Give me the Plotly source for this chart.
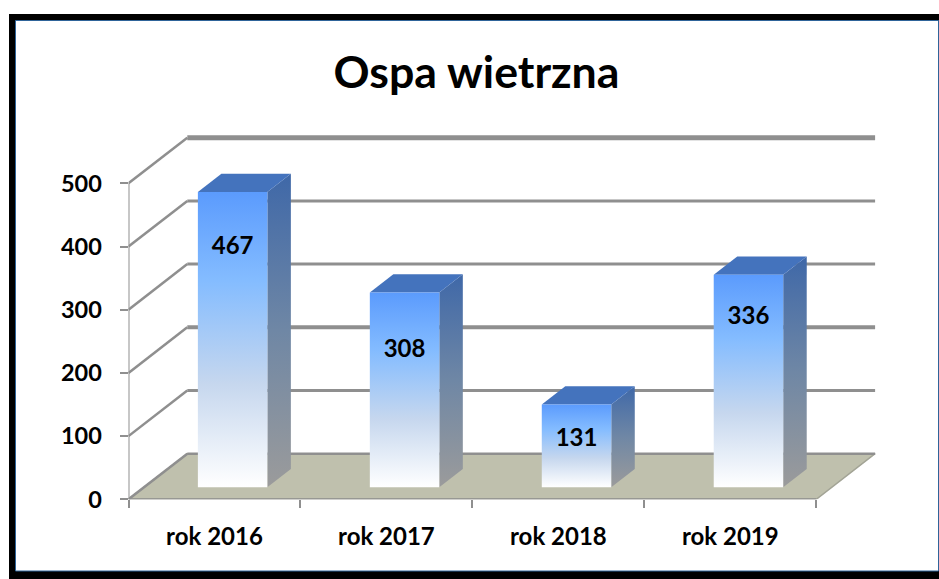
import plotly.graph_objects as go

W, H = 939, 579
title = "Ospa wietrzna"
categories = ["rok 2016", "rok 2017", "rok 2018", "rok 2019"]
values = [467, 308, 131, 336]
y_ticks = [0, 100, 200, 300, 400, 500]
label_frac = [0.810, 0.700, 0.57, 0.795]
grid_width = {100: 3, 200: 4, 300: 3, 400: 3, 500: 5}

FONT = "Lato"
GRAY = "#8f8f8f"
# plot area, in pixels of the picture (with a little room around the box)
PX_L, PX_R, PX_T, PX_B = 128.5, 890, 125, 499.3
PX_CAT = (816.3 - 128.5) / 4
PX_VAL = (499.3 - 183.3) / 500
# depth of the 3D box, in data units
DX = 58.8 / PX_CAT
DY = 45.6 / PX_VAL
# bar geometry, as a fraction of a category and of the depth
BAR_Z0, BAR_DEPTH = 0.265, 0.40
BAR_LEFT, BAR_W = 0.4035 - BAR_Z0 * DX, 0.404


def proj(x, v, z):
    return x + z * DX, v + z * DY


fig = go.Figure()


def poly(points, **kw):
    xs = [p[0] for p in points] + [points[0][0]]
    ys = [p[1] for p in points] + [points[0][1]]
    fig.add_trace(go.Scatter(x=xs, y=ys, mode="lines", fill="toself", hoverinfo="skip",
                             showlegend=False, cliponaxis=False, **kw))


def line(xs, ys, width):
    fig.add_trace(go.Scatter(x=xs, y=ys, mode="lines", hoverinfo="skip", showlegend=False,
                             cliponaxis=False, line=dict(color=GRAY, width=width)))


n = len(categories)
# floor
poly([proj(0, 0, 0), proj(n, 0, 0), proj(n, 0, 1), proj(0, 0, 1)],
     fillcolor="#bfc0ad", line=dict(color="#a3a496", width=1.5))

# gridlines on the side wall and the back wall
for v in y_ticks:
    x0, y0 = proj(0, v, 1)
    x1, y1 = proj(n, v, 1)
    line([0, x0], [v, y0], 2.5)
    line([x0, x1], [y0, y1], grid_width.get(v, 2.5))

# the axis lines
line([0, 0], [0, max(y_ticks)], 2)
line([0, n], [0, 0], 2)

# bars
front_scale = [[0, "#ffffff"], [0.35, "#c6d7ee"], [0.7, "#84bcff"], [1, "#5b9bfd"]]
side_scale = [[0, "#9b9b9b"], [0.5, "#6f87a5"], [1, "#3f68a8"]]
for i, v in enumerate(values):
    xl = i + BAR_LEFT
    xr = xl + BAR_W
    z0, z1 = BAR_Z0, BAR_Z0 + BAR_DEPTH
    # side face
    poly([proj(xr, 0, z0), proj(xr, v, z0), proj(xr, v, z1), proj(xr, 0, z1)],
         line=dict(width=0), fillgradient=dict(type="vertical", colorscale=side_scale))
    # top face
    poly([proj(xl, v, z0), proj(xr, v, z0), proj(xr, v, z1), proj(xl, v, z1)],
         fillcolor="#4473bd", line=dict(width=0))
    # front face
    poly([proj(xl, 0, z0), proj(xr, 0, z0), proj(xr, v, z0), proj(xl, v, z0)],
         line=dict(width=0), fillgradient=dict(type="vertical", colorscale=front_scale))

# value labels
lx, ly = [], []
for i, v in enumerate(values):
    x, y = proj(i + BAR_LEFT + BAR_W / 2, v * label_frac[i], BAR_Z0)
    lx.append(x)
    ly.append(y)
fig.add_trace(go.Scatter(x=lx, y=ly, mode="text", text=[str(v) for v in values], textposition="middle center",
                         textfont=dict(family=FONT, size=24, color="#000000", weight="bold"),
                         hoverinfo="skip", showlegend=False, cliponaxis=False))


def px(x):
    return x / W


def py(y):
    return 1 - y / H


frame = [
    dict(type="rect", xref="paper", yref="paper", x0=px(9), x1=px(939), y0=py(579), y1=py(14),
         fillcolor="#000000", line=dict(width=0), layer="below"),
    dict(type="rect", xref="paper", yref="paper", x0=px(15.5), x1=px(938.5), y0=py(571), y1=py(20.5),
         fillcolor="#ffffff", line=dict(color="#2f6499", width=1), layer="below"),
]

fig.update_layout(
    width=W, height=H, autosize=False,
    margin=dict(l=0, r=0, t=0, b=0, pad=0),
    paper_bgcolor="#ffffff", plot_bgcolor="rgba(0,0,0,0)",
    showlegend=False,
    shapes=frame,
    title=dict(text=title, x=476.5 / W, xanchor="center", y=py(72), yanchor="middle",
               font=dict(family=FONT, size=44.7, color="#000000", weight="bold")),
    xaxis=dict(domain=[px(PX_L), px(PX_R)], range=[0, (PX_R - PX_L) / PX_CAT], showgrid=False, zeroline=False,
               automargin=False, showline=False, tickmode="array", tickvals=[i + 0.5 for i in range(n)],
               ticktext=categories, ticks="", ticklabelstandoff=21,
               tickfont=dict(family=FONT, size=24, color="#000000", weight="bold"),
               minor=dict(tickmode="array", tickvals=list(range(n + 1)), ticks="outside", ticklen=8,
                          tickcolor=GRAY, tickwidth=1.5, showgrid=False)),
    yaxis=dict(domain=[py(PX_B), py(PX_T)], range=[0, (PX_B - PX_T) / PX_VAL], showgrid=False, zeroline=False,
               automargin=False, showline=False, tickmode="array", tickvals=y_ticks, ticks="outside", ticklen=8,
               tickcolor=GRAY, tickwidth=2, ticklabelstandoff=13,
               tickfont=dict(family=FONT, size=23.5, color="#000000", weight="bold")),
)

fig.write_html("out.html", config={"displayModeBar": False},
               post_script="document.body.style.margin='0';document.documentElement.style.overflow='hidden';")
